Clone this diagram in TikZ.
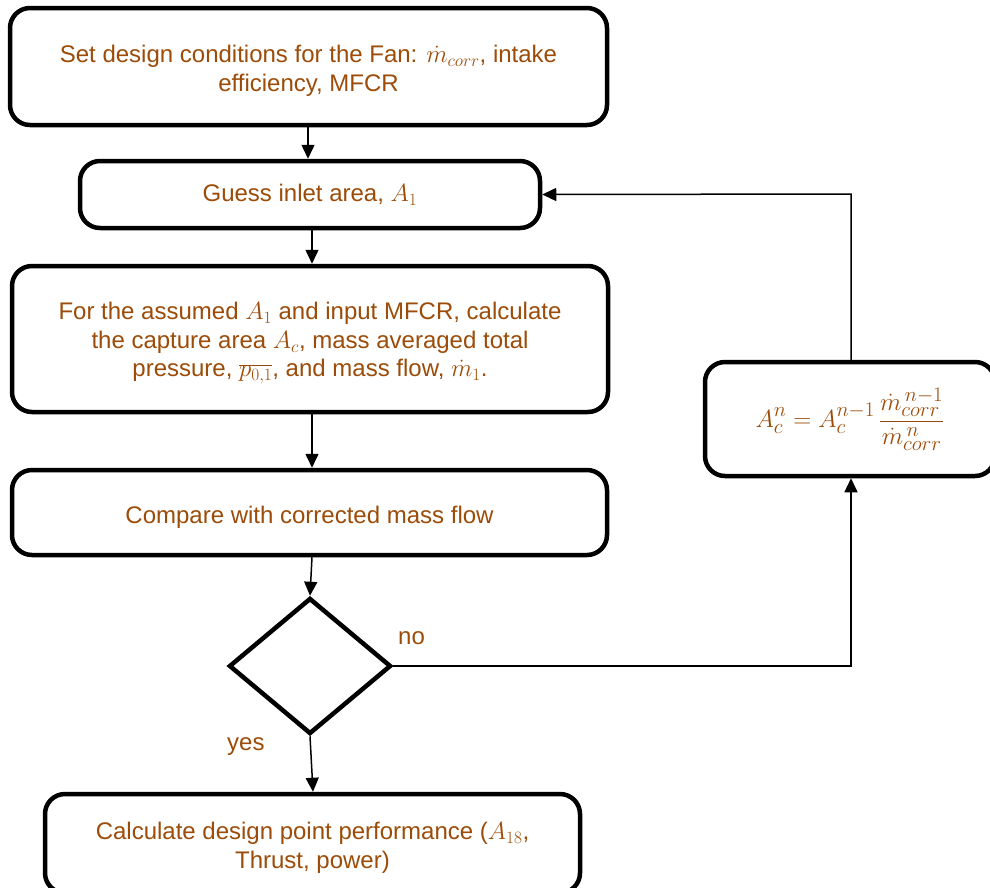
\documentclass[tikz,border=0pt]{standalone}
\usepackage{fontspec}
\setmainfont{Liberation Sans}
\usetikzlibrary{arrows.meta,shapes.geometric}
\definecolor{txt}{RGB}{156,76,8}
\newcommand{\topstrut}{\rule{0pt}{26pt}}
\begin{document}
\begin{tikzpicture}[x=1pt,y=-1pt,
  box/.style={draw=black,line width=4.5pt,rounded corners=20pt,fill=white,
    text=txt,align=center,inner sep=0pt,font=\fontsize{24}{28.5}\selectfont},
  conn/.style={line width=1.5pt,-{Triangle[length=14pt,width=13pt]}},
  lbl/.style={text=txt,font=\fontsize{24}{28}\selectfont,inner sep=0pt}]
\useasboundingbox (0,0) rectangle (990,887);
\clip (0,0) rectangle (990,887);
\node[box,minimum width=597pt,minimum height=117pt] (b1) at (308.5,66.5)
  {\topstrut Set design conditions for the Fan: $\dot{m}_{corr}$, intake\\efficiency, MFCR};
\node[box,minimum width=460pt,minimum height=67pt] (b2) at (310,194.5)
  {Guess inlet area, $A_1$};
\node[box,minimum width=596pt,minimum height=146pt] (b3) at (310,339)
  {\topstrut For the assumed $A_1$ and input MFCR, calculate\\the capture area $A_c$, mass averaged total\\pressure, $\overline{p_{0,1}}$, and mass flow, $\dot{m}_1$.};
\node[box,minimum width=595pt,minimum height=85pt] (b4) at (309.5,512.5)
  {\topstrut Compare with corrected mass flow};
\node[draw=black,line width=4.5pt,shape=diamond,minimum width=162pt,minimum height=136pt,inner sep=0pt] (d) at (310,666) {};
\node[box,minimum width=535pt,minimum height=99pt] (b5) at (312.5,843.5)
  {\topstrut Calculate design point performance ($A_{18}$,\\Thrust, power)};
\node[box,minimum width=290pt,minimum height=114pt,font=\fontsize{28}{32}\selectfont] (r) at (850,419)
  {$\displaystyle A_c^n = A_c^{n-1}\,\frac{\dot{m}_{corr}^{\,n-1}}{\dot{m}_{corr}^{\,n}}$};
\node[lbl,anchor=west] (no) at (398,638) {no};
\node[lbl,anchor=west] (yes) at (227,747) {yes};
\coordinate (c1) at (851,666);
\coordinate (c2) at (851,194);
\draw[conn] (308,125) -- (b2.north -| 308,0);
\draw[conn] (b2.south -| 312,0) -- (b3.north -| 312,0);
\draw[conn] (b3.south -| 312,0) -- (b4.north -| 312,0);
\draw[conn] (b4.south -| 312,0) -- (d.north);
\draw[conn] (d.south) -- (b5.north -| 313,0);
\draw[conn] (d.east) -- (c1) -- (r.south -| c1);
\draw[conn] (r.north -| c1) -- (c2) -- (b2.east);
\end{tikzpicture}
\end{document}
